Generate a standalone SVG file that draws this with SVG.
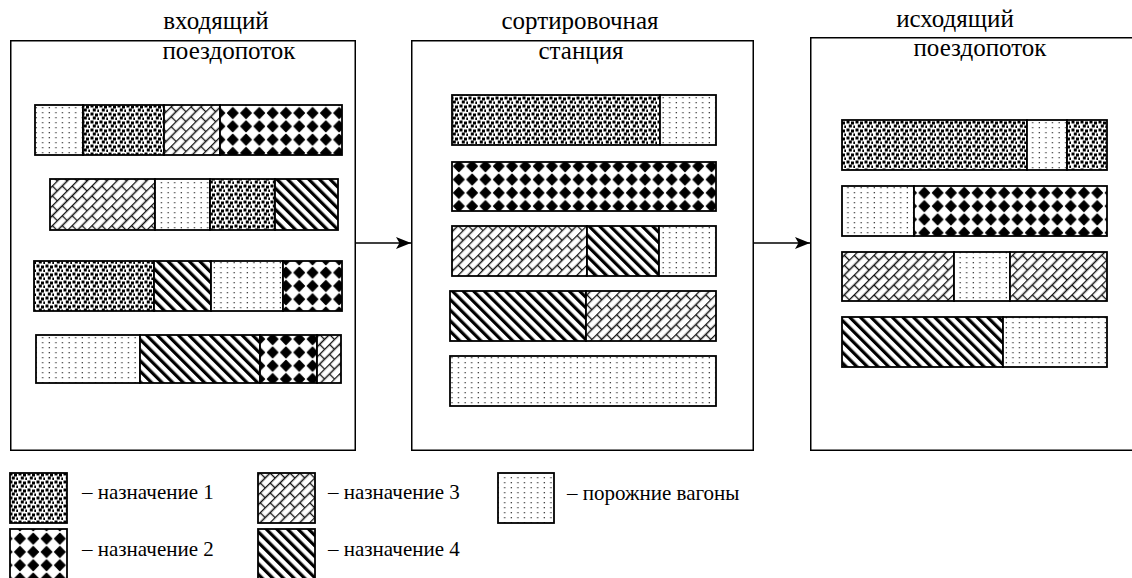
<svg xmlns="http://www.w3.org/2000/svg" width="1132" height="578" viewBox="0 0 1132 578">
<defs>
<pattern id="pE" patternUnits="userSpaceOnUse" width="6.6" height="5">
<rect width="6.6" height="5" fill="#fff"/>
<rect x="2.5" y="2" width="1.3" height="1.3" fill="#444"/>
</pattern>
<pattern id="p1" patternUnits="userSpaceOnUse" width="9" height="8">
<rect width="9" height="8" fill="#fff"/>
<rect x="0.5" y="0.5" width="3" height="3" fill="#000"/>
<rect x="5" y="1.5" width="3" height="3" fill="#000"/>
<rect x="2.8" y="4.5" width="3" height="3" fill="#000"/>
<rect x="7.3" y="5.5" width="3" height="3" fill="#000"/>
</pattern>
<pattern id="p2" patternUnits="userSpaceOnUse" width="13.3" height="13.3" x="0" y="0">
<rect width="13.3" height="13.3" fill="#fff"/>
<path d="M6.65 1.6 L11.7 6.65 L6.65 11.7 L1.6 6.65 Z" fill="#000" stroke="#000" stroke-width="1.6" stroke-linejoin="round"/>
</pattern>
<pattern id="p3" patternUnits="userSpaceOnUse" width="14" height="14" patternTransform="rotate(-45)">
<rect width="14" height="14" fill="#fff"/>
<path d="M0 0.5 H14 M0 7.5 H14 M3.5 0.5 V7.5 M10.5 7.5 V14" stroke="#111" stroke-width="1.3" fill="none"/>
</pattern>
<pattern id="p4" patternUnits="userSpaceOnUse" width="7.5" height="7.5" patternTransform="rotate(-45)">
<rect width="7.5" height="7.5" fill="#fff"/>
<rect x="0" y="0" width="3.2" height="7.5" fill="#000"/>
</pattern>
<marker id="arr" viewBox="0 0 15 12" refX="15" refY="6" markerWidth="15" markerHeight="12" markerUnits="userSpaceOnUse" orient="auto">
<path d="M0 0 L15 6 L0 12 L3.5 6 Z" fill="#000"/>
</marker>
</defs>
<style>
.frame{fill:#fff;stroke:#000;stroke-width:1.5}
.seg{stroke:#000;stroke-width:1.8}
.e{fill:url(#pE)}
.d1{fill:url(#p1)}
.d2{fill:url(#p2)}
.d3{fill:url(#p3)}
.d4{fill:url(#p4)}
.h{font-family:"Liberation Serif","Times New Roman",serif;font-size:25px;fill:#000;text-anchor:middle}
.l{font-family:"Liberation Serif","Times New Roman",serif;font-size:21px;fill:#000}
.conn{stroke:#000;stroke-width:1.5;fill:none}
</style>

<g id="incoming">
<rect class="frame" x="10.75" y="40.75" width="344.5" height="409.5"/>
<text class="h" x="216" y="29">входящий</text>
<text class="h" x="229" y="59">поездопоток</text>
<g class="seg">
<rect class="e" x="35" y="105" width="48" height="50"/>
<rect class="d1" x="83" y="105" width="81" height="50"/>
<rect class="d3" x="164" y="105" width="56" height="50"/>
<rect class="d2" x="220" y="105" width="122" height="50"/>
<rect class="d3" x="50" y="179" width="105" height="51"/>
<rect class="e" x="155" y="179" width="55" height="51"/>
<rect class="d1" x="210" y="179" width="65" height="51"/>
<rect class="d4" x="275" y="179" width="63" height="51"/>
<rect class="d1" x="34" y="261" width="120" height="50"/>
<rect class="d4" x="154" y="261" width="57" height="50"/>
<rect class="e" x="211" y="261" width="72" height="50"/>
<rect class="d2" x="283" y="261" width="59" height="50"/>
<rect class="e" x="36" y="335" width="104" height="48"/>
<rect class="d4" x="140" y="335" width="120" height="48"/>
<rect class="d2" x="260" y="335" width="57" height="48"/>
<rect class="d3" x="317" y="335" width="24" height="48"/>
</g>
</g>

<g id="station">
<rect class="frame" x="411.75" y="40.75" width="341.5" height="409.5"/>
<text class="h" x="580" y="29">сортировочная</text>
<text class="h" x="581" y="59">станция</text>
<g class="seg">
<rect class="d1" x="452" y="95" width="208" height="50"/>
<rect class="e" x="660" y="95" width="56" height="50"/>
<rect class="d2" x="452" y="162" width="264" height="49"/>
<rect class="d3" x="452" y="226" width="135" height="50"/>
<rect class="d4" x="587" y="226" width="72" height="50"/>
<rect class="e" x="659" y="226" width="57" height="50"/>
<rect class="d4" x="450" y="291" width="136" height="50"/>
<rect class="d3" x="586" y="291" width="130" height="50"/>
<rect class="e" x="450" y="356" width="266" height="50"/>
</g>
</g>

<g id="outgoing">
<rect class="frame" x="810.75" y="37.75" width="330" height="412.5"/>
<text class="h" x="955" y="27">исходящий</text>
<text class="h" x="980" y="56">поездопоток</text>
<g class="seg">
<rect class="d1" x="842" y="120" width="185" height="50"/>
<rect class="e" x="1027" y="120" width="40" height="50"/>
<rect class="d1" x="1067" y="120" width="40" height="50"/>
<rect class="e" x="842" y="186" width="72" height="50"/>
<rect class="d2" x="914" y="186" width="193" height="50"/>
<rect class="d3" x="842" y="252" width="112" height="49"/>
<rect class="e" x="954" y="252" width="56" height="49"/>
<rect class="d3" x="1010" y="252" width="97" height="49"/>
<rect class="d4" x="842" y="317" width="161" height="50"/>
<rect class="e" x="1003" y="317" width="104" height="50"/>
</g>
</g>

<g id="connectors">
<line class="conn" x1="355" y1="243" x2="411" y2="243" marker-end="url(#arr)"/>
<line class="conn" x1="753" y1="243" x2="810" y2="243" marker-end="url(#arr)"/>
</g>

<g id="legend">
<g class="seg">
<rect class="d1" x="10" y="473" width="57" height="50"/>
<rect class="d2" x="10" y="529" width="57" height="52"/>
<rect class="d3" x="258" y="473" width="57" height="50"/>
<rect class="d4" x="258" y="529" width="57" height="52"/>
<rect class="e" x="498" y="473" width="56" height="50"/>
</g>
<text class="l" x="82" y="499">– назначение 1</text>
<text class="l" x="82" y="556">– назначение 2</text>
<text class="l" x="328" y="499">– назначение 3</text>
<text class="l" x="328" y="556">– назначение 4</text>
<text class="l" x="567" y="500">– порожние вагоны</text>
</g>
</svg>
